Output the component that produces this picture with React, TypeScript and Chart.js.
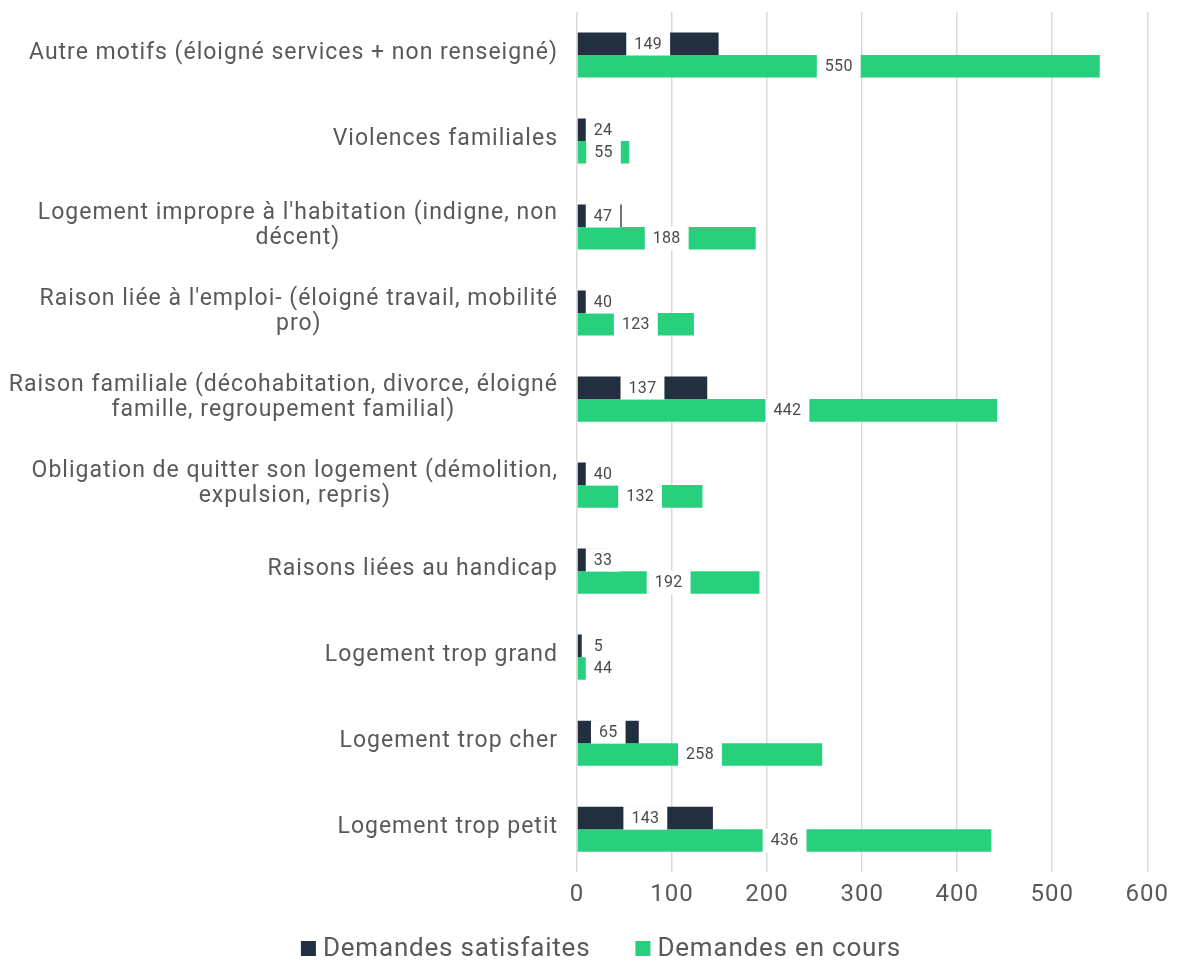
import React, { useEffect, useRef } from "react";
import { Chart, registerables } from "chart.js";

Chart.register(...registerables);

const categories: string[][] = [
  ["Autre motifs (éloigné services + non renseigné)"],
  ["Violences familiales"],
  ["Logement impropre à l'habitation (indigne, non", "décent)"],
  ["Raison liée à l'emploi- (éloigné travail, mobilité", "pro)"],
  ["Raison familiale (décohabitation, divorce, éloigné", "famille, regroupement familial)"],
  ["Obligation de quitter son logement (démolition,", "expulsion, repris)"],
  ["Raisons liées au handicap"],
  ["Logement trop grand"],
  ["Logement trop cher"],
  ["Logement trop petit"],
];

const satisfaites: number[] = [149, 24, 47, 40, 137, 40, 33, 5, 65, 143];
const enCours: number[] = [550, 55, 188, 123, 442, 132, 192, 44, 258, 436];

const xTicks: number[] = [0, 100, 200, 300, 400, 500, 600];

const seriesNames: string[] = ["Demandes satisfaites", "Demandes en cours"];
const seriesColors: string[] = ["#222f3e", "#26d07c"];

const FONT = "Roboto, 'Noto Sans', sans-serif";
const TEXT = "#595959";

const spacingPlugin = {
  id: "spacing",
  beforeLayout(chart: any) {
    chart.ctx.letterSpacing = "1px";
  },
  beforeDraw(chart: any) {
    chart.ctx.letterSpacing = "1px";
  },
};

const categoryLabelsPlugin = {
  id: "categoryLabels",
  afterDraw(chart: any) {
    const ctx = chart.ctx;
    const yScale = chart.scales.y;
    const right = chart.chartArea.left - 19;
    ctx.save();
    ctx.letterSpacing = "1px";
    ctx.font = `23px ${FONT}`;
    ctx.fillStyle = TEXT;
    ctx.textAlign = "center";
    ctx.textBaseline = "middle";
    const lh = 25;
    categories.forEach((lines, i) => {
      const cy = yScale.getPixelForValue(i) - 1.5;
      const w = Math.max(...lines.map((l) => ctx.measureText(l).width));
      const cx = right - w / 2;
      const top = cy - ((lines.length - 1) * lh) / 2;
      lines.forEach((l, j) => ctx.fillText(l, cx, top + j * lh));
    });
    ctx.restore();
  },
};

const legendPlugin = {
  id: "customLegend",
  afterDraw(chart: any) {
    const ctx = chart.ctx;
    ctx.save();
    ctx.letterSpacing = "0.8px";
    ctx.font = `26px ${FONT}`;
    ctx.textAlign = "left";
    ctx.textBaseline = "alphabetic";
    const box = 15;
    const gapBoxText = 7;
    const gapItems = 45;
    const widths = seriesNames.map((n) => ctx.measureText(n).width);
    const total =
      widths.reduce((a, b) => a + b, 0) + seriesNames.length * (box + gapBoxText) + gapItems * (seriesNames.length - 1);
    let x = 601 - total / 2;
    const baseline = 956;
    seriesNames.forEach((n, i) => {
      ctx.fillStyle = seriesColors[i];
      ctx.fillRect(x, baseline - box, box, box);
      x += box + gapBoxText;
      ctx.fillStyle = TEXT;
      ctx.fillText(n, x, baseline);
      x += widths[i] + gapItems;
    });
    ctx.restore();
  },
};

const valueLabelsPlugin = {
  id: "valueLabels",
  afterDatasetsDraw(chart: any) {
    const ctx = chart.ctx;
    ctx.save();
    ctx.letterSpacing = "0.3px";
    ctx.font = `16px ${FONT}`;
    ctx.textAlign = "center";
    ctx.textBaseline = "middle";
    chart.data.datasets.forEach((ds: any, di: number) => {
      const meta = chart.getDatasetMeta(di);
      meta.data.forEach((bar: any, i: number) => {
        const p = bar.getProps(["x", "y", "base", "height"], true);
        const text = String(ds.data[i]);
        const tw = ctx.measureText(text).width;
        const w = tw + 16;
        let left = (p.x + p.base) / 2 - w / 2;
        if (left < p.base + 8) left = p.base + 8;
        const h = p.height + 1;
        ctx.fillStyle = "#ffffff";
        ctx.fillRect(left, p.y - h / 2, w, h);
        ctx.fillStyle = "#4a4a4a";
        ctx.fillText(text, left + w / 2, p.y + 1);
      });
    });
    ctx.restore();
  },
};

export default function App() {
  const ref = useRef<HTMLCanvasElement | null>(null);
  useEffect(() => {
    if (!ref.current) return;
    const chart = new Chart(ref.current, {
      type: "bar",
      data: {
        labels: categories.map((c) => c.join(" ")),
        datasets: [
          {
            label: seriesNames[0],
            data: satisfaites,
            backgroundColor: seriesColors[0],
            categoryPercentage: 0.524,
            barPercentage: 1,
          },
          {
            label: seriesNames[1],
            data: enCours,
            backgroundColor: seriesColors[1],
            categoryPercentage: 0.524,
            barPercentage: 1,
          },
        ],
      },
      options: {
        indexAxis: "y",
        animation: false,
        responsive: true,
        maintainAspectRatio: false,
        layout: { padding: { left: 577, right: 29, top: 12, bottom: 43 } },
        scales: {
          x: {
            min: 0,
            max: 600,
            afterBuildTicks: (scale: any) => {
              scale.ticks = xTicks.map((v) => ({ value: v }));
            },
            grid: { color: "#d9d9d9", lineWidth: 1.5, drawTicks: false },
            border: { display: false },
            ticks: {
              padding: 8,
              color: TEXT,
              font: { family: FONT, size: 24 },
            },
          },
          y: {
            display: false,
            grid: { display: false },
          },
        },
        plugins: {
          legend: { display: false },
          tooltip: { enabled: false },
        },
      },
      plugins: [spacingPlugin, valueLabelsPlugin, categoryLabelsPlugin, legendPlugin],
    } as any);
    return () => chart.destroy();
  }, []);
  return (
    <div style={{ position: "absolute", left: 0, top: 0, width: 1177, height: 960 }}>
      <canvas ref={ref} />
    </div>
  );
}
